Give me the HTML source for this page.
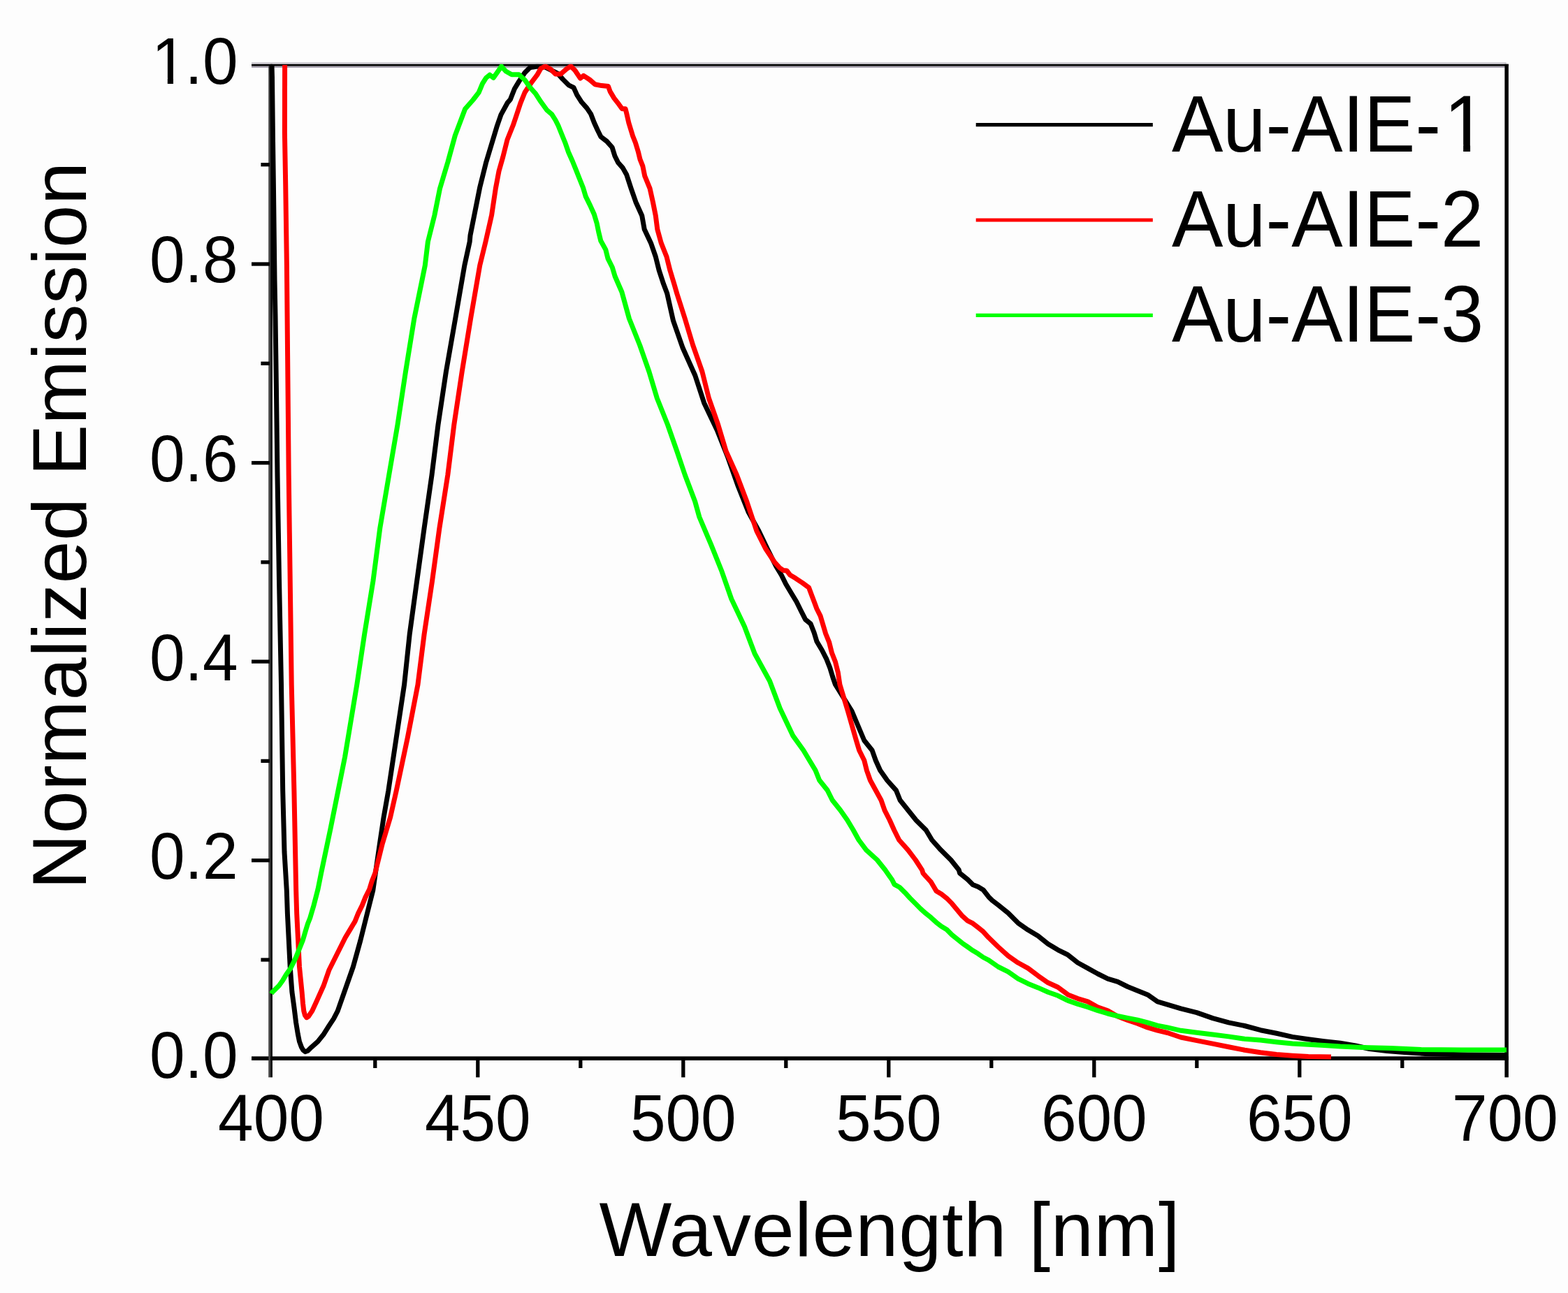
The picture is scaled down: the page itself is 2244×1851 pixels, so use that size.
<!DOCTYPE html>
<html><head><meta charset="utf-8"><title>Normalized Emission vs Wavelength</title>
<style>
html,body{margin:0;padding:0;background:#fdfdfd;overflow:hidden;}
svg{display:block;}
text{font-family:"Liberation Sans",Arial,Helvetica,sans-serif;fill:#000;}
</style></head><body>
<svg width="2244" height="1851" viewBox="0 0 2244 1851">
<defs><clipPath id="plotclip"><rect x="380" y="91.8" width="1785" height="1427"/></clipPath></defs>
<rect x="0" y="0" width="2244" height="1851" fill="#fdfdfd"/>

<g stroke="none">
<rect x="360" y="89" width="1795.8" height="2.9" fill="#d2d0d6"/>
<rect x="360" y="94.4" width="1793.7" height="2.5" fill="#a39dab"/>
<rect x="360" y="91.8" width="1798.9" height="2.7" fill="#000"/>
<rect x="360" y="1512.3" width="1798.9" height="5.7" fill="#000"/>
<rect x="384.2" y="94.4" width="2.9" height="1447.9" fill="#454545"/>
<rect x="387.1" y="91.8" width="2.8" height="1450.5" fill="#000"/>
<rect x="2153.4" y="91.8" width="5.5" height="1450.5" fill="#000"/>
</g>
<g fill="none" stroke-linejoin="round" stroke-linecap="butt" clip-path="url(#plotclip)">
<polyline stroke="#000" stroke-width="7" points="389,93 389.5,111 390.5,200 391.5,273 393,400 394,452 395.5,560 397,680 399.5,830 402.5,980 404.7,1132 407,1220 410.3,1275 411.4,1308 413.3,1346 415.2,1384 417.9,1420 420.9,1441.9 423.6,1463.8 426.3,1480.2 428.5,1491.1 431.5,1499.3 434,1503.5 437,1505.6 440.5,1504.2 445.5,1499.3 454.8,1491.1 463.5,1480.2 470.4,1469.2 477.5,1458.3 483.2,1447.4 492.1,1422 505.4,1384 515.9,1346 525.4,1308 533.7,1275 543.4,1208 549.1,1170 555.8,1132 567.2,1056 578.6,980 586.2,908 596.6,832 607.1,756 618,680 627,608 638.4,532 651.7,456 664.8,380 672.2,346 673,337 679.9,302.4 686.8,267.8 691.1,250.6 695.4,233.3 700.6,216 705.8,198.7 711,181.4 717,164.1 726.5,146.8 730.2,142.7 736.4,127 742.7,116.6 751.1,104 758.4,96.7 768.8,95 779.3,95.7 789.7,100.9 798.1,105.1 805.4,113.4 813.8,121.8 821,125.4 825.7,135.9 832.4,146.3 840,154.9 845.7,163.4 850.4,175.8 855.2,186.3 859.9,195.8 868.5,202.4 876.1,211 879.9,223.3 884.6,232.8 891.3,240.4 896.7,250 903.1,269.6 909.9,289.2 918.7,308.7 922.2,328.3 931.5,347.9 938.3,367.5 943.2,387.1 949.6,406.6 954.7,420 963.5,459.2 977.2,498.3 994.8,537.5 1007.6,576.7 1026.2,615.8 1041.8,655 1055.6,694.2 1071.2,733.4 1085.9,760 1098,785.3 1110.7,810.7 1118.3,823.3 1124.6,836 1132.2,848.7 1139.8,861.3 1146.1,874 1152.5,886.7 1160.1,893 1165.1,905.7 1168.9,918.3 1176.5,931 1182.9,943.7 1187.9,956.4 1191.7,969 1195.5,980 1219.1,1018 1236.8,1060 1248.2,1074.3 1253.2,1088.5 1259.6,1102.8 1269.6,1117 1282.4,1131.3 1288.1,1145.5 1299.5,1159.8 1310.9,1174 1325.2,1188.3 1333.7,1202.5 1346.5,1216.8 1360.8,1231 1372.2,1245.3 1373.6,1250 1384.8,1259 1392.3,1266.5 1399.8,1269.5 1407.2,1274 1414.7,1283.7 1420,1289 1428.5,1295.6 1442.8,1307 1457,1321.3 1471.3,1331.3 1485.5,1339.8 1499.8,1351.2 1514,1359.8 1528.3,1366.9 1542.5,1378.3 1556.8,1386.1 1571,1394 1585.3,1401.1 1599.5,1405.4 1613.8,1412.5 1628,1418.2 1642.3,1423.9 1656.5,1433.9 1670.8,1438.1 1690,1443.9 1712.8,1449.6 1735.6,1457.6 1758.4,1463.9 1781.2,1468.5 1804,1474.7 1826.8,1479.3 1849.6,1484.4 1872.4,1487.8 1895.2,1490.7 1918,1493.2 1940,1497 1960,1501.5 1985,1504.5 2010,1506.5 2040,1508.5 2100,1510 2154,1510.5"/>
<polyline stroke="#ff0000" stroke-width="7" points="407.6,93 407.4,190 408.7,264 410.4,380 413.2,680 417.2,980 420.9,1132 423.7,1275 424.7,1308 426.6,1346 428.5,1384 432.1,1420 433.5,1436.4 434.8,1447.4 436.5,1453.5 438.8,1456.7 441.5,1455 446.6,1447.4 452.7,1434.3 463,1411.3 471.1,1388.2 482.6,1365.2 494.1,1342.2 501.1,1330.6 508,1319.1 512.6,1307.6 518.3,1296.1 522.9,1284.6 528.7,1273 532.2,1261.5 536.8,1250 547.2,1208 558.6,1170 567.2,1132 583.3,1056 598,980 607.1,908 618.5,832 628.9,756 640.8,680 649.8,608 661.2,532 673.6,456 686.7,380 695,346 703.6,308 709.3,270 714,245 719.7,225 726,200 734.3,179.3 739.6,163.6 744.8,147.9 751.1,132.3 759.4,119.7 768.8,107.2 774.1,97.8 780.3,94.8 787.6,98.8 795,106.1 802.3,106.1 810.6,98.8 816.9,94.8 822.9,100.7 830.5,112.1 835.2,108.3 843.8,114 851.4,120.7 860.9,122.6 870.4,123.5 873.2,131.1 878.9,140.6 885.6,149.2 890.3,155.8 895.1,155.8 897,163.4 899.8,175.8 902.7,185.3 905.6,194.8 909.4,204.3 913.2,216.7 916,228.1 919.8,237.6 922.7,251.8 930,269.6 934.4,289.2 938.3,308.7 940.8,328.3 946.2,347.9 954,367.5 958.9,387.1 964.8,406.6 968.7,420 980.2,456 991.6,494 1004.9,532 1014.4,570 1027.7,608 1039.1,646 1054.4,680 1068.8,718 1082.8,760 1095.5,785.3 1108.1,804.3 1116,813 1120.8,816.4 1126,817 1130.9,823.3 1138.5,827.8 1148.7,834.7 1157.5,841.1 1161.3,851.2 1165.1,861.3 1168.9,871.5 1174,881.6 1177.8,894.3 1181.6,907 1186.7,919.6 1190.5,934.8 1195.5,947.5 1199.3,962.7 1201.9,980 1213.4,1018 1225.4,1060 1229.7,1074.3 1236.8,1088.5 1240.4,1102.8 1245.4,1117 1253.2,1131.3 1261,1145.5 1266,1159.8 1273.2,1174 1279.6,1188.3 1286.7,1202.5 1299.5,1216.8 1310.2,1231 1319.5,1245.3 1321,1250 1324.9,1254.5 1332.4,1262.7 1339.9,1275.4 1347.4,1280 1354.9,1285.9 1362.3,1293.4 1369.8,1302.4 1377.3,1311.4 1384.8,1318.1 1392.3,1321.9 1399.8,1327.8 1407.2,1333.8 1414.7,1342.1 1428.5,1355.5 1442.8,1368.3 1457,1378.3 1471.3,1386.1 1485.5,1396.8 1499.8,1406.8 1514,1413.2 1528.3,1423.9 1542.5,1429.6 1556.8,1433.9 1571,1441.7 1585.3,1446.7 1599.5,1455 1613.8,1460.5 1628,1465.2 1642.3,1470.9 1656.5,1475.2 1670.8,1478.5 1690,1485 1712.8,1489.6 1735.6,1494.1 1758.4,1498.7 1781.2,1503.2 1804,1506.7 1826.8,1509.5 1849.6,1511.2 1872.4,1512.4 1905,1513"/>
<polyline stroke="#00ff00" stroke-width="7" points="388.5,1422.6 389.6,1420.6 399.3,1411 405,1402.9 409.8,1394.8 415.5,1386.8 419.5,1378.7 423.5,1370.6 426.7,1362.6 430,1354.5 433.2,1346.5 435.6,1338.4 438,1330.3 440.5,1322.3 443.7,1314.2 446.1,1306.1 448.5,1298.1 455,1273 459.6,1250 472.8,1187.3 483.2,1135.5 493.6,1083.6 502.2,1031.8 510.8,980 521.6,908 533.9,832 543.8,756 556.7,680 569,608 580.5,532 592.8,456 608.3,380 612.4,346 621.9,308 629.5,270 640.9,232 651.3,194 665.6,156 677,143 685.2,132.3 690.5,119.7 695.7,111.4 700.9,107.2 706.1,111.4 711.4,104 717.6,95 723.9,102 732.3,106.7 742.7,106.7 751.1,114.5 758.4,124.9 766.7,134.3 774.1,145.8 782.4,157.3 789.7,163.6 795,172 799,180 804.1,192.7 809.2,205.3 813.6,218 819.3,230.7 824.4,243.4 829.4,256 834.5,268.7 838.3,281.4 844.6,294.1 850.3,306.7 854.1,319.4 856.7,332.1 859.8,344.8 866.8,357.4 870,370.1 876.3,382.8 880.1,395.5 889.9,418 900.4,456 915.6,494 928.9,532 940.3,570 955.5,608 968.8,646 980.3,680 994.7,718 1000.8,740 1017.4,779.2 1033.1,818.3 1046.8,857.5 1065.4,896.7 1080.1,935.8 1101.6,975 1116.3,1014.2 1134.9,1053.4 1149.9,1074.3 1158.4,1088.5 1167,1102.8 1172.7,1117 1184.1,1131.3 1191.2,1145.5 1202.6,1159.8 1212.6,1174 1221.1,1188.3 1229,1202.5 1239.7,1216.8 1255.3,1231 1266.7,1245.3 1276.7,1259.5 1280,1266.1 1287.5,1270.2 1295,1277.7 1302.5,1285.9 1310,1293.4 1317.4,1300.9 1324.9,1307.6 1332.4,1313.6 1339.9,1320.4 1347.4,1326.3 1354.9,1330.8 1362.3,1338.3 1369.8,1344.3 1377.3,1350.3 1384.8,1355.5 1392.3,1360.8 1399.8,1365.3 1407.2,1370.5 1414.7,1374.3 1428.5,1384 1442.8,1391.1 1457,1401.1 1471.3,1408.2 1485.5,1413.9 1499.8,1420.3 1514,1425.3 1528.3,1432.4 1542.5,1437.4 1556.8,1441.7 1571,1446.7 1585.3,1451 1599.5,1454.5 1613.8,1457.4 1628,1460.2 1642.3,1463.8 1656.5,1468.1 1670.8,1470.9 1690,1475.3 1712.8,1478.2 1735.6,1481 1758.4,1483.9 1781.2,1487.3 1804,1489 1826.8,1491.8 1849.6,1494.1 1872.4,1495.3 1895.2,1496.4 1918,1498.1 1950,1499.5 1990,1500.5 2034,1502.5 2091,1503 2156,1503"/>
</g>
<g stroke="#000" stroke-width="5.3" fill="none">
<line x1="373.4" y1="1374.0" x2="386" y2="1374.0"/>
<line x1="360" y1="1231.7" x2="386" y2="1231.7"/>
<line x1="373.4" y1="1089.4" x2="386" y2="1089.4"/>
<line x1="360" y1="947.1" x2="386" y2="947.1"/>
<line x1="373.4" y1="804.8" x2="386" y2="804.8"/>
<line x1="360" y1="662.6" x2="386" y2="662.6"/>
<line x1="373.4" y1="520.3" x2="386" y2="520.3"/>
<line x1="360" y1="378.0" x2="386" y2="378.0"/>
<line x1="373.4" y1="235.7" x2="386" y2="235.7"/>
<line x1="536.8" y1="1516" x2="536.8" y2="1529"/>
<line x1="683.8" y1="1516" x2="683.8" y2="1542.3"/>
<line x1="830.8" y1="1516" x2="830.8" y2="1529"/>
<line x1="977.8" y1="1516" x2="977.8" y2="1542.3"/>
<line x1="1124.8" y1="1516" x2="1124.8" y2="1529"/>
<line x1="1271.8" y1="1516" x2="1271.8" y2="1542.3"/>
<line x1="1418.8" y1="1516" x2="1418.8" y2="1529"/>
<line x1="1565.8" y1="1516" x2="1565.8" y2="1542.3"/>
<line x1="1712.8" y1="1516" x2="1712.8" y2="1529"/>
<line x1="1859.8" y1="1516" x2="1859.8" y2="1542.3"/>
<line x1="2006.8" y1="1516" x2="2006.8" y2="1529"/>
</g>
<g font-size="91">
<text transform="translate(214.00 1542.70) scale(1 1.033)">0.0</text>
<text transform="translate(214.00 1258.12) scale(1 1.033)">0.2</text>
<text transform="translate(214.00 973.54) scale(1 1.033)">0.4</text>
<text transform="translate(214.00 688.96) scale(1 1.033)">0.6</text>
<text transform="translate(214.00 404.38) scale(1 1.033)">0.8</text>
<text transform="translate(214.00 119.80) scale(1 1.033)"><tspan dx="3">1</tspan><tspan dx="-3">.0</tspan></text>
<text transform="translate(312.09 1633.4) scale(1 1.033)">400</text>
<text transform="translate(607.89 1633.4) scale(1 1.033)">450</text>
<text transform="translate(901.89 1633.4) scale(1 1.033)">500</text>
<text transform="translate(1195.89 1633.4) scale(1 1.033)">550</text>
<text transform="translate(1489.89 1633.4) scale(1 1.033)">600</text>
<text transform="translate(1783.89 1633.4) scale(1 1.033)">650</text>
<text transform="translate(2078.09 1633.4) scale(1 1.033)">700</text>
</g>
<text font-size="110" letter-spacing="0.7" transform="translate(857.4 1798.2)">Wavelength [nm]</text>
<text font-size="110" letter-spacing="0.46" transform="translate(122.9 1273.2) rotate(-90)">Normalized Emission</text>
<g font-size="110">
<line x1="1396.7" y1="178.6" x2="1649.8" y2="178.6" stroke="#000" stroke-width="5.2"/>
<text transform="translate(1677 216.80) scale(1 1.04)">Au-AIE-<tspan dx="4.5">1</tspan></text>
<line x1="1396.7" y1="315.0" x2="1649.8" y2="315.0" stroke="#ff0000" stroke-width="5.2"/>
<text transform="translate(1677 352.60) scale(1 1.04)">Au-AIE-2</text>
<line x1="1396.7" y1="451.4" x2="1649.8" y2="451.4" stroke="#00ff00" stroke-width="5.2"/>
<text transform="translate(1677 488.80) scale(1 1.04)">Au-AIE-3</text>
</g>
<g fill="#fdfdfd" stroke="none">
<rect x="221.44" y="111.58" width="18.35" height="10.52"/>
<rect x="248.01" y="111.58" width="17.86" height="10.52"/>
<rect x="2071.98" y="207.05" width="22.18" height="12.05"/>
<rect x="2104.10" y="207.05" width="21.59" height="12.05"/>
</g>
</svg>
</body></html>
